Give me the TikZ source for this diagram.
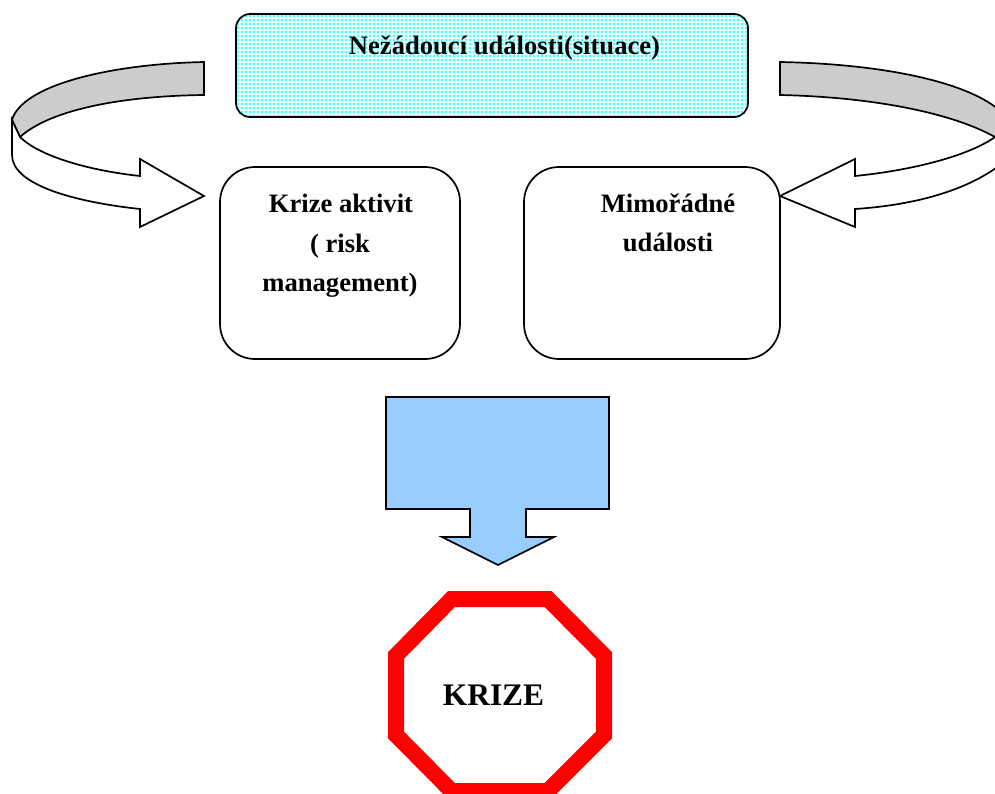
\documentclass[tikz,border=0pt]{standalone}
\usepackage{fontspec}
\setmainfont{Liberation Serif}
\tikzset{
  outl/.style={draw=black,line width=1.7pt,line join=miter},
  lbl/.style={font=\bfseries\fontsize{26.6}{30}\selectfont,inner sep=0pt,anchor=base,text=black},
  rbox/.style={draw=black,line width=1.7pt,fill=white,rounded corners=35pt}
}
\begin{document}
\begin{tikzpicture}[x=1pt,y=-1pt]
\useasboundingbox (0,0) rectangle (995,793);
\clip (0,0) rectangle (995,793);
% top box
\fill[rounded corners=14pt,fill={rgb,255:red,85;green,255;blue,255}] (236,14) rectangle (748,117);
\begin{scope}
\clip[rounded corners=14pt] (236,14) rectangle (748,117);
\foreach \i in {0,...,128} {\draw[white,line width=1.1pt,opacity=0.75] ({236+4*\i},14) -- ++(0,103);}
\foreach \i in {0,...,26} {\draw[white,line width=1.1pt,opacity=0.75] (236,{14+4*\i}) -- ++(512,0);}
\end{scope}
\draw[outl,rounded corners=14pt] (236,14) rectangle (748,117);
\node[lbl] (top) at (504.5,54) {Nežádoucí události(situace)};
% left curved arrow
\path[outl,fill=black!20] (204,62) .. controls (110,64) and (22,85) .. (12,120)
  -- (20,137) .. controls (50,110) and (120,96) .. (204,95) -- cycle;
\path[outl,fill=white] (12,120) -- (20,137) .. controls (38,155) and (85,170) .. (140,176)
  -- (140,159) -- (204,196) -- (140,227) -- (140,209)
  .. controls (75,202) and (12,185) .. (12,155) -- cycle;
% right curved arrow
\path[outl,fill=black!20] (780,62) .. controls (890,64) and (990,85) .. (1012,125)
  -- (995,137) .. controls (950,112) and (870,97) .. (780,95) -- cycle;
\path[outl,fill=white] (1012,125) -- (995,137) .. controls (970,155) and (915,170) .. (855,176)
  -- (855,159) -- (780,196) -- (855,227) -- (855,209)
  .. controls (915,205) and (975,190) .. (1012,155) -- cycle;
% boxes
\node[rbox,minimum width=240pt,minimum height=192pt,inner sep=0pt] (krize) at (340,263) {};
\node[rbox,minimum width=256pt,minimum height=192pt,inner sep=0pt] (mim) at (652,263) {};
\node[lbl] (k1) at (341,212) {Krize aktivit};
\node[lbl] (k2) at (340,252) {( risk};
\node[lbl] (k3) at (340,291) {management)};
\node[lbl] (m1) at (668,212) {Mimořádné};
\node[lbl] (m2) at (668,251) {události};
% down arrow
\path[outl,fill={rgb,255:red,153;green,204;blue,255}] (386,397) -- (609,397) -- (609,509) -- (526,509) -- (526,537) -- (554,537) -- (498,565) -- (442,537) -- (470,537) -- (470,509) -- (386,509) -- cycle;
% octagon
\draw[red,line width=16pt,line join=miter] (451.5,599) -- (548,599) -- (604,655.5) -- (604,735) -- (548,791) -- (451.5,791) -- (396,735) -- (396,655.5) -- cycle;
\node[lbl,font=\bfseries\fontsize{31.4}{36}\selectfont] (crisis) at (493.5,705) {KRIZE};
\end{tikzpicture}
\end{document}
